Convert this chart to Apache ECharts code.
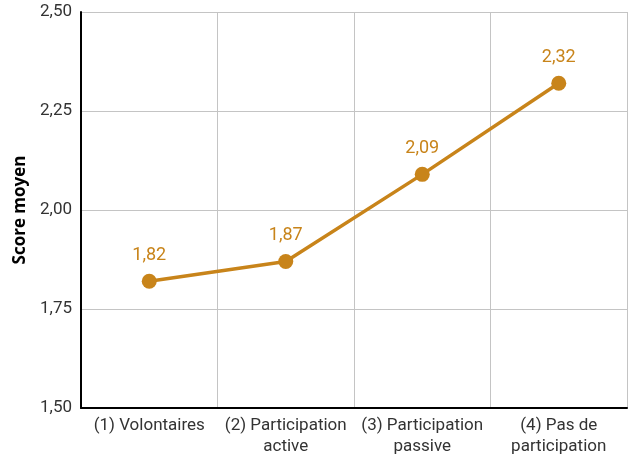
<!DOCTYPE html>
<html>
<head>
<meta charset="utf-8">
<script src="https://cdn.jsdelivr.net/npm/echarts@6/dist/echarts.min.js"></script>
<style>
  html, body { margin: 0; padding: 0; background: #fff; }
  #chart { width: 629px; height: 459px; }
</style>
</head>
<body>
<div id="chart"></div>
<script>
// Groupes de participation
const categories = [
  '(1) Volontaires',
  '(2) Participation\nactive',
  '(3) Participation\npassive',
  '(4) Pas de\nparticipation'
];
// Score moyen par groupe
const scores = [1.82, 1.87, 2.09, 2.32];
const yTicks = [1.50, 1.75, 2.00, 2.25, 2.50];

const fr = v => v.toFixed(2).replace('.', ',');
const font = 'Roboto, "Open Sans", sans-serif';
const orange = '#C8841A';

const chart = echarts.init(document.getElementById('chart'));
chart.setOption({
  animation: false,
  grid: { left: 81, right: 2, top: 12, bottom: 51 },
  xAxis: {
    type: 'category',
    data: categories,
    boundaryGap: true,
    axisLine: { show: true, lineStyle: { color: '#000', width: 2 } },
    axisTick: { show: false },
    splitLine: { show: true, lineStyle: { color: '#c4c4c4', width: 1 } },
    axisLabel: {
      color: '#333', fontSize: 17, fontFamily: font, lineHeight: 21,
      margin: 7, interval: 0
    }
  },
  yAxis: {
    type: 'value',
    min: yTicks[0],
    max: yTicks[yTicks.length - 1],
    interval: 0.25,
    name: 'Score moyen',
    nameLocation: 'middle',
    nameGap: 48,
    nameRotate: 90,
    nameTextStyle: { color: '#000', fontSize: 17, fontWeight: 'bold', fontFamily: '"Open Sans", sans-serif' },
    axisLine: { show: true, lineStyle: { color: '#000', width: 2 } },
    axisTick: { show: false },
    splitLine: { show: true, lineStyle: { color: '#c4c4c4', width: 1 } },
    axisLabel: {
      color: '#333', fontSize: 17, fontFamily: font, margin: 9,
      formatter: v => fr(v)
    }
  },
  series: [{
    type: 'line',
    data: scores,
    symbol: 'circle',
    symbolSize: 15,
    lineStyle: { color: orange, width: 3.5 },
    itemStyle: { color: orange },
    label: {
      show: true,
      position: 'top',
      distance: 9,
      color: orange,
      fontSize: 18,
      fontFamily: font,
      formatter: p => fr(p.value)
    }
  }]
});
</script>
</body>
</html>
